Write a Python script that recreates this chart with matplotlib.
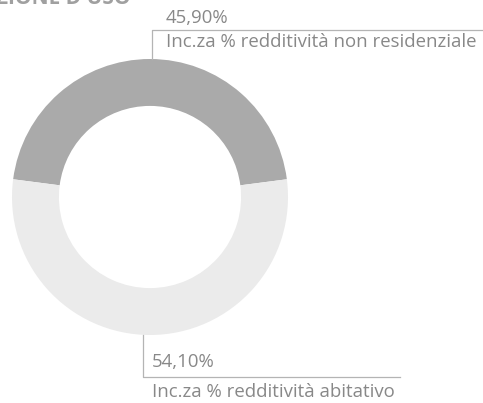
import numpy as np
import matplotlib
matplotlib.use("Agg")
import matplotlib.pyplot as plt

# Share of income by property use
labels = ["Inc.za % redditività non residenziale", "Inc.za % redditività abitativo"]
values = [45.90, 54.10]
value_texts = ["45,90%", "54,10%"]
colors = ["#aaaaaa", "#ebebeb"]
title = "DESTINAZIONE D'USO"

W, H = 483, 403
fig = plt.figure(figsize=(W / 100, H / 100), dpi=100)
ax = fig.add_axes([0, 0, 1, 1])
ax.set_xlim(0, W)
ax.set_ylim(0, H)
ax.set_aspect("equal")
ax.axis("off")

def py(y):
    """pixel row (from top) -> axes y"""
    return H - y

cx, cy = 150, py(197)
r_out = 138
ring = 0.34

# first wedge centred on the top of the ring
start = 90 - values[0] / sum(values) * 360 / 2
wedges, _ = ax.pie(values, colors=colors, startangle=start, counterclock=True,
                   radius=r_out, center=(cx, cy),
                   wedgeprops=dict(width=r_out * ring, linewidth=0))
ax.set_xlim(0, W)
ax.set_ylim(0, H)

font = "Open Sans"
tcol = "#888888"
lcol = "#b4b4b4"
fs = 13.4

# top callout
top_y = cy + r_out
ax.plot([cx + 2, cx + 2, W], [top_y, py(30), py(30)], color=lcol, lw=0.9)
ax.text(166, py(18), value_texts[0], fontsize=fs, family=font, color=tcol,
        ha="left", va="center")
ax.text(166, py(42), labels[0], fontsize=fs, family=font, color=tcol,
        ha="left", va="center")

# bottom callout
bot_y = cy - r_out
ax.plot([cx - 7, cx - 7, 400], [bot_y, py(377), py(377)], color=lcol, lw=0.9)
ax.text(152, py(362), value_texts[1], fontsize=fs, family=font, color=tcol,
        ha="left", va="center")
ax.text(152, py(392), labels[1], fontsize=fs, family=font, color=tcol,
        ha="left", va="center")

# section heading, running off the top edge
ax.text(131, py(4), title, fontsize=15, family=font, weight="bold",
        color="#a0a0a0", ha="right", va="baseline", clip_on=False)

fig.savefig("out.png", dpi=100, facecolor="white")
